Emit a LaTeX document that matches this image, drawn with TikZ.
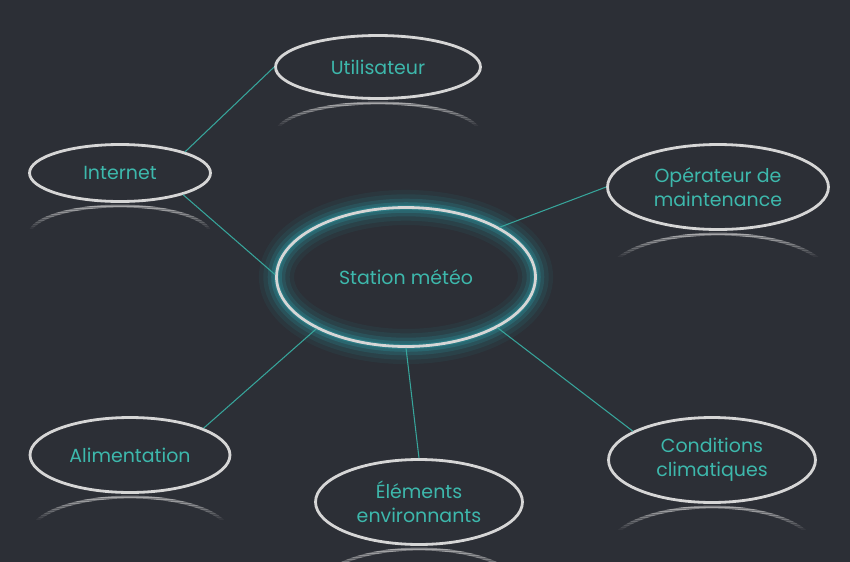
\documentclass[tikz,border=0pt]{standalone}
\usepackage{fontspec}
\setmainfont{Poppins}
\usepackage{tikz}
\usetikzlibrary{shapes.geometric}
\definecolor{slatebg}{HTML}{2C2F36}
\definecolor{rimgrey}{HTML}{D6D6D6}
\definecolor{meteoteal}{HTML}{3DB8AC}
\definecolor{glowteal}{HTML}{2A96A0}
\tikzset{
  link/.style={line width=0.6pt, meteoteal!90!black},
  bubble/.style={ellipse, draw=rimgrey, line width=1.6pt, inner sep=0pt, align=center, text=meteoteal, font=\fontsize{10.8}{13.6}\selectfont},
  echo/.style={rimgrey, line width=1.6pt},
}
% faded mirror arc under a bubble: centre x, bottom y, x radius, y radius (pixels)
\newcommand{\mirror}[4]{%
  \foreach \k in {0,...,11} {
    \begin{scope}
      \clip (#1-#3-6,#2+2+2*\k) rectangle (#1+#3+6,#2+4+2*\k);
      \draw[echo, opacity={0.5-0.04*\k}] (#1,#2+4+#4) ellipse [x radius=#3, y radius=#4];
    \end{scope}
  }}

\begin{document}
\begin{tikzpicture}[x=0.02cm, y=-0.02cm]

  \useasboundingbox (0,0) rectangle (850,562);
  \fill[slatebg] (0,0) rectangle (850,562);

  % glow round the station
  \foreach \w/\o in {20/0.08,15/0.12,10/0.2,6/0.3,3/0.4} {
    \draw[glowteal, line width=\w pt, opacity=\o] (406,277) ellipse [x radius=129.5, y radius=69.5];
  }

  \node[bubble, minimum width=5.18cm, minimum height=2.78cm] (station) at (406,277) {Station météo};
  \node[bubble, minimum width=4.1cm, minimum height=1.26cm] (user) at (378,67) {Utilisateur};
  \node[bubble, minimum width=3.62cm, minimum height=1.14cm] (web) at (120,173) {Internet};
  \node[bubble, minimum width=4.42cm, minimum height=1.7cm] (maint) at (718,187) {Opérateur de\\maintenance};
  \node[bubble, minimum width=4.0cm, minimum height=1.5cm] (power) at (130,455) {Alimentation};
  \node[bubble, minimum width=4.14cm, minimum height=1.7cm] (env) at (419,502) {Éléments\\environnants};
  \node[bubble, minimum width=4.14cm, minimum height=1.7cm] (climate) at (712,460) {Conditions\\climatiques};

  % reflections
  \mirror{378}{99}{102.5}{31.5}
  \mirror{120}{202}{90.5}{28.5}
  \mirror{718}{230}{110.5}{42.5}
  \mirror{130}{493}{100}{37.5}
  \mirror{419}{545}{103.5}{42.5}
  \mirror{712}{503}{103.5}{42.5}

  \draw[link] (user.west) -- (web.18);
  \draw[link] (web.-19) -- (station.179);
  \draw[link] (station.28) -- (maint.west);
  \draw[link] (station.210) -- (power.20);
  \draw[link] (station.south) -- (env.north);
  \draw[link] (station.-29) -- (climate.160);
\end{tikzpicture}
\end{document}
